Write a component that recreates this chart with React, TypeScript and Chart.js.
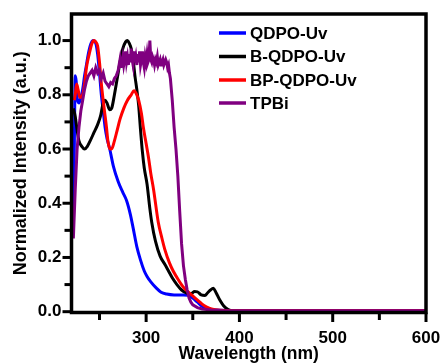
import React, { useEffect, useRef } from "react";
import { Chart, registerables } from "chart.js";

Chart.register(...registerables);

const seriesLabels = ["QDPO-Uv", "B-QDPO-Uv", "BP-QDPO-Uv", "TPBi"];
const seriesColors = ["#0000FF", "#000000", "#FF0000", "#800080"];

const qdpoWl = [222, 223, 224, 225, 226, 228, 230, 232, 234, 236, 238, 240, 243, 246, 248, 250, 252, 254, 256, 258, 261, 265, 270, 275, 279, 283, 286, 290, 294, 298, 301, 305, 311, 316, 322, 330, 340, 345, 350, 355, 360, 365, 370, 380, 400, 600];
const qdpoVal = [0.35, 0.6, 0.87, 0.85, 0.79, 0.77, 0.79, 0.82, 0.87, 0.91, 0.95, 0.98, 1.0, 0.99, 0.95, 0.88, 0.8, 0.74, 0.68, 0.64, 0.6, 0.535, 0.48, 0.44, 0.41, 0.36, 0.31, 0.24, 0.19, 0.15, 0.13, 0.11, 0.087, 0.072, 0.065, 0.062, 0.062, 0.06, 0.05, 0.035, 0.02, 0.012, 0.008, 0.005, 0.004, 0.004];

const bqdpoWl = [222, 224, 226, 228, 231, 234, 237, 240, 244, 248, 251, 254, 256, 258, 261, 263, 266, 269, 272, 275, 278, 280, 282, 284, 286, 288, 290, 292, 294, 296, 298, 301, 304, 306, 310, 315, 320, 324, 328, 333, 338, 344, 348, 352, 355, 359, 363, 366, 369, 372, 375, 379, 383, 388, 395, 600];
const bqdpoVal = [0.75, 0.72, 0.67, 0.63, 0.61, 0.6, 0.61, 0.63, 0.66, 0.69, 0.72, 0.77, 0.78, 0.77, 0.745, 0.75, 0.8, 0.86, 0.92, 0.97, 0.995, 1.0, 0.99, 0.97, 0.93, 0.87, 0.82, 0.76, 0.67, 0.59, 0.53, 0.47, 0.38, 0.33, 0.26, 0.205, 0.175, 0.15, 0.125, 0.1, 0.08, 0.068, 0.066, 0.074, 0.073, 0.062, 0.06, 0.07, 0.08, 0.086, 0.07, 0.043, 0.022, 0.008, 0.003, 0.002];

const bpqdpoWl = [223, 224, 225.5, 227, 229, 232, 234, 236, 239, 242, 244, 246, 248, 250, 252, 255, 257.5, 259, 261, 263, 266, 269, 272, 276, 280, 284, 287, 290, 292, 295, 297, 300, 302.5, 305, 308, 313, 317, 320, 325, 329, 335, 340, 346, 351, 356, 360, 365, 370, 380, 400, 600];
const bpqdpoVal = [0.78, 0.8, 0.84, 0.82, 0.79, 0.8, 0.84, 0.9, 0.95, 0.99, 1.0, 0.995, 0.98, 0.92, 0.84, 0.75, 0.68, 0.63, 0.6, 0.6, 0.63, 0.67, 0.71, 0.75, 0.78, 0.8, 0.815, 0.8, 0.78, 0.73, 0.68, 0.62, 0.57, 0.51, 0.45, 0.33, 0.27, 0.23, 0.18, 0.15, 0.115, 0.09, 0.07, 0.055, 0.04, 0.028, 0.017, 0.01, 0.005, 0.003, 0.003];

const tpbiWl = [222, 224, 226, 228, 230, 232, 234, 236, 238, 240, 242, 244, 246, 248, 250, 252, 254, 256, 258, 260, 262, 264, 266, 268, 270, 271, 272, 273, 274, 275, 276, 277, 278, 279, 280, 281, 282, 283, 284, 285, 286, 287, 288, 289, 290, 291, 292, 293, 294, 295, 296, 297, 298, 299, 300, 301, 302, 303, 304, 305, 306, 307, 308, 309, 310, 311, 312, 313, 314, 315, 316, 317, 318, 319, 320, 321, 322, 323, 324, 325, 326, 328, 330, 332, 334, 336, 338, 340, 342, 344, 346, 348, 350, 355, 360, 370, 380, 400, 600];
const tpbiVal = [0.27, 0.45, 0.6, 0.68, 0.74, 0.78, 0.82, 0.85, 0.87, 0.88, 0.89, 0.87, 0.9, 0.88, 0.89, 0.86, 0.88, 0.85, 0.84, 0.83, 0.845, 0.84, 0.86, 0.87, 0.89, 0.91, 0.93, 0.9, 0.92, 0.94, 0.91, 0.93, 0.96, 0.92, 0.94, 0.91, 0.95, 0.92, 0.97, 0.93, 0.91, 0.96, 0.92, 0.94, 0.91, 0.95, 0.92, 0.96, 0.91, 0.93, 0.96, 0.92, 0.9, 0.94, 0.92, 0.95, 0.92, 0.93, 1.0, 0.93, 0.92, 0.94, 0.93, 0.91, 0.93, 0.92, 0.94, 0.91, 0.92, 0.93, 0.91, 0.92, 0.93, 0.91, 0.92, 0.93, 0.92, 0.9, 0.91, 0.88, 0.86, 0.78, 0.68, 0.6, 0.5, 0.37, 0.25, 0.17, 0.12, 0.08, 0.05, 0.035, 0.025, 0.015, 0.01, 0.006, 0.004, 0.003, 0.003];

const xMajorTicks = [300, 400, 500, 600];
const xMinorTicks = [250, 350, 450, 550];
const yMajorTicks = [0, 0.2, 0.4, 0.6, 0.8, 1.0];
const yMinorTicks = [0.1, 0.3, 0.5, 0.7, 0.9];

const xTitle = "Wavelength (nm)";
const yTitle = "Normalized Intensity (a.u.)";

const FONT = "'Liberation Sans', Arial, sans-serif";

function pts(xs: number[], ys: number[]) {
  return xs.map((x, i) => ({ x, y: ys[i] }));
}

const framePlugin = {
  id: "frameTicksLegend",
  afterDraw(chart: any) {
    const { ctx, chartArea } = chart;
    const xs = chart.scales.x;
    const ys = chart.scales.y;
    ctx.save();
    ctx.strokeStyle = "#000";
    ctx.lineCap = "butt";
    const drawX = (v: number, len: number) => {
      const p = xs.getPixelForValue(v);
      ctx.beginPath();
      ctx.moveTo(p, chartArea.bottom);
      ctx.lineTo(p, chartArea.bottom + len);
      ctx.stroke();
    };
    const drawY = (v: number, len: number) => {
      const p = ys.getPixelForValue(v);
      ctx.beginPath();
      ctx.moveTo(chartArea.left, p);
      ctx.lineTo(chartArea.left - len, p);
      ctx.stroke();
    };
    ctx.lineWidth = 3;
    xMajorTicks.forEach((v) => drawX(v, 9.5));
    xMinorTicks.forEach((v) => drawX(v, 7.5));
    yMajorTicks.forEach((v) => drawY(v, 9));
    yMinorTicks.forEach((v) => drawY(v, 7));
    ctx.lineWidth = 3.5;
    ctx.strokeRect(chartArea.left, chartArea.top, chartArea.right - chartArea.left, chartArea.bottom - chartArea.top);
    const rows = [33, 56.5, 80, 103];
    ctx.font = "bold 17px " + FONT;
    ctx.textBaseline = "middle";
    ctx.textAlign = "left";
    seriesLabels.forEach((lab, i) => {
      ctx.strokeStyle = seriesColors[i];
      ctx.lineWidth = 3.5;
      ctx.beginPath();
      ctx.moveTo(219, rows[i]);
      ctx.lineTo(246, rows[i]);
      ctx.stroke();
      ctx.fillStyle = "#000";
      ctx.fillText(lab, 250, rows[i] + 1);
    });
    ctx.restore();
  },
};

export default function App() {
  const ref = useRef<HTMLCanvasElement | null>(null);
  useEffect(() => {
    document.body.style.margin = "0";
    const canvas = ref.current;
    if (!canvas) return;
    const datasets = [
      [qdpoWl, qdpoVal],
      [bqdpoWl, bqdpoVal],
      [bpqdpoWl, bpqdpoVal],
      [tpbiWl, tpbiVal],
    ].map(([xs, ys], i) => ({
      label: seriesLabels[i],
      data: pts(xs, ys),
      borderColor: seriesColors[i],
      backgroundColor: seriesColors[i],
      borderWidth: 3,
      pointRadius: 0,
      tension: i === 3 ? 0 : 0.35,
      cubicInterpolationMode: i === 3 ? "default" : "monotone",
      order: 4 - i,
      fill: false,
    }));
    const chart = new Chart(canvas, {
      type: "line",
      data: { datasets: datasets as any },
      options: {
        animation: false,
        responsive: false,
        maintainAspectRatio: false,
        layout: { padding: { left: 0, top: 14, right: 15, bottom: 0 } },
        plugins: { legend: { display: false }, tooltip: { enabled: false } },
        scales: {
          x: {
            type: "linear",
            min: 220,
            max: 600,
            afterBuildTicks: (s: any) => {
              s.ticks = xMajorTicks.map((v) => ({ value: v }));
            },
            afterFit: (s: any) => {
              s.height = 50.5;
              s.paddingLeft = 0;
              s.paddingRight = 0;
            },
            grid: { display: false, drawTicks: false },
            border: { display: false },
            ticks: {
              padding: 16,
              color: "#000",
              maxRotation: 0,
              autoSkip: false,
              font: { family: FONT, size: 17, weight: "bold" },
              callback: (v: any) => String(v),
            },
            title: {
              display: true,
              text: xTitle,
              color: "#000",
              padding: { top: 0, bottom: -1.5 },
              font: { family: FONT, size: 17.5, weight: "bold" },
            },
          },
          y: {
            type: "linear",
            min: -0.003,
            max: 1.098,
            afterBuildTicks: (s: any) => {
              s.ticks = yMajorTicks.map((v) => ({ value: v }));
            },
            afterFit: (s: any) => {
              s.width = 71.5;
              s.paddingTop = 0;
              s.paddingBottom = 0;
            },
            grid: { display: false, drawTicks: false },
            border: { display: false },
            ticks: {
              padding: 10,
              color: "#000",
              autoSkip: false,
              font: { family: FONT, size: 17, weight: "bold" },
              callback: (v: any) => Number(v).toFixed(1),
            },
            title: {
              display: true,
              text: yTitle,
              color: "#000",
              padding: { top: 10, bottom: 0 },
              font: { family: FONT, size: 18, weight: "bold" },
            },
          },
        },
      },
      plugins: [framePlugin],
    });
    return () => chart.destroy();
  }, []);
  return (
    <div style={{ width: 441, height: 363 }}>
      <canvas ref={ref} width={441} height={363} style={{ display: "block", background: "#fff" }} />
    </div>
  );
}
